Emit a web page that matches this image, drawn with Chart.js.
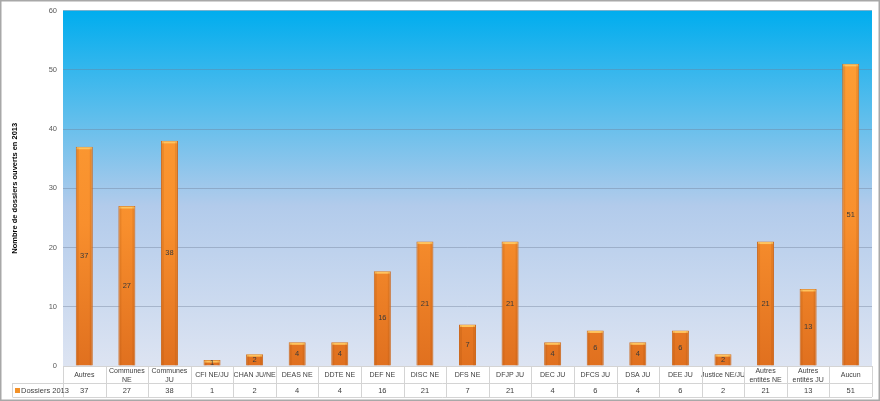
<!DOCTYPE html>
<html lang="fr">
<head>
<meta charset="UTF-8">
<title>Dossiers ouverts en 2013</title>
<script src="https://cdn.jsdelivr.net/npm/chart.js"></script>
<style>
  html, body { margin: 0; padding: 0; background: #fff; }
  #wrap { width: 880px; height: 401px; position: relative; }
</style>
</head>
<body>
<div id="wrap"><canvas id="chart"></canvas></div>
<script>
// données
const categories = [
  ['Autres'], ['Communes', 'NE'], ['Communes', 'JU'], ['CFI NE/JU'], ['CHAN JU/NE'],
  ['DEAS NE'], ['DDTE NE'], ['DEF NE'], ['DISC NE'], ['DFS NE'], ['DFJP JU'],
  ['DEC JU'], ['DFCS JU'], ['DSA JU'], ['DEE JU'], ['Justice NE/JU'],
  ['Autres', 'entités NE'], ['Autres', 'entités JU'], ['Aucun']
];
const dossiers2013 = [37, 27, 38, 1, 2, 4, 4, 16, 21, 7, 21, 4, 6, 4, 6, 2, 21, 13, 51];
const seriesName = 'Dossiers 2013';
const yTicks = [0, 10, 20, 30, 40, 50, 60];

const FONT = '"Liberation Sans", Arial, sans-serif';
const TABLE_LINE = '#d4d4d4';

// fond dégradé de la zone de tracé + cadre extérieur
const backgroundPlugin = {
  id: 'plotBackground',
  beforeDraw(chart) {
    const { ctx, chartArea: a, width, height } = chart;
    ctx.save();
    ctx.fillStyle = '#fff';
    ctx.fillRect(0, 0, width, height);
    const g = ctx.createLinearGradient(0, a.top, 0, a.bottom);
    g.addColorStop(0, '#00adee');
    g.addColorStop(0.3, '#5fbeec');
    g.addColorStop(0.55, '#b2cbeb');
    g.addColorStop(1, '#dde4f2');
    ctx.fillStyle = g;
    ctx.fillRect(a.left, a.top, a.right - a.left, a.bottom - a.top);
    ctx.strokeStyle = '#a8a8a8';
    ctx.lineWidth = 1.5;
    ctx.strokeRect(0.75, 0.75, width - 1.5, height - 1.5);
    ctx.restore();
  }
};

// chapeau clair + étiquettes de valeurs
const barDecorPlugin = {
  id: 'barDecor',
  afterDatasetsDraw(chart) {
    const { ctx } = chart;
    const meta = chart.getDatasetMeta(0);
    ctx.save();
    meta.data.forEach((bar, i) => {
      const half = bar.width / 2;
      ctx.fillStyle = '#ffc45e';
      ctx.fillRect(bar.x - half + 1, bar.y + 0.5, bar.width - 2, 2);
      ctx.fillStyle = 'rgba(150,70,10,0.15)';
      ctx.fillRect(bar.x - half + 1, bar.y + 1, 2, bar.base - bar.y - 1);
      ctx.fillRect(bar.x + half - 3, bar.y + 1, 2, bar.base - bar.y - 1);
      ctx.fillStyle = '#3a3a3a';
      ctx.font = '7.5px ' + FONT;
      ctx.textAlign = 'center';
      ctx.textBaseline = 'middle';
      ctx.fillText(String(dossiers2013[i]), bar.x, (bar.y + bar.base) / 2);
    });
    ctx.restore();
  }
};

// tableau de données sous l'axe
const dataTablePlugin = {
  id: 'dataTable',
  afterDraw(chart) {
    const { ctx, chartArea: a } = chart;
    const x = chart.scales.x;
    const rowTop = a.bottom;
    const rowMid = rowTop + 17;
    const rowBot = rowTop + 31;
    const legendLeft = 12.5;
    const step = (a.right - a.left) / categories.length;
    ctx.save();
    ctx.strokeStyle = TABLE_LINE;
    ctx.lineWidth = 1;
    ctx.beginPath();
    ctx.moveTo(a.left, rowTop + 0.5); ctx.lineTo(a.right, rowTop + 0.5);
    ctx.moveTo(legendLeft, rowMid + 0.5); ctx.lineTo(a.right, rowMid + 0.5);
    ctx.moveTo(legendLeft, rowBot + 0.5); ctx.lineTo(a.right, rowBot + 0.5);
    ctx.moveTo(legendLeft, rowMid); ctx.lineTo(legendLeft, rowBot);
    for (let i = 0; i <= categories.length; i++) {
      const px = Math.round(a.left + i * step) + 0.5;
      ctx.moveTo(px, rowTop); ctx.lineTo(px, rowBot);
    }
    ctx.stroke();

    ctx.fillStyle = '#f39128';
    ctx.fillRect(15, rowMid + 5, 5, 5);
    ctx.fillStyle = '#404040';
    ctx.font = '7.5px ' + FONT;
    ctx.textBaseline = 'middle';
    ctx.textAlign = 'left';
    ctx.fillText(seriesName, 21, (rowMid + rowBot) / 2 + 0.5);
    ctx.textAlign = 'center';
    dossiers2013.forEach((v, i) => {
      ctx.fillText(String(v), x.getPixelForValue(i), (rowMid + rowBot) / 2 + 0.5);
    });
    ctx.restore();
  }
};

const ctx = document.getElementById('chart').getContext('2d');
new Chart(ctx, {
  type: 'bar',
  data: {
    labels: categories,
    datasets: [{
      label: seriesName,
      data: dossiers2013,
      backgroundColor(c) {
        const a = c.chart.chartArea;
        if (!a) return '#f7922e';
        const g = c.chart.ctx.createLinearGradient(0, a.top, 0, a.bottom);
        g.addColorStop(0, '#ffa236');
        g.addColorStop(0.6, '#f88f2d');
        g.addColorStop(1, '#e0701f');
        return g;
      },
      borderColor: '#cc6a20',
      borderWidth: 1,
      barPercentage: 0.4,
      categoryPercentage: 1
    }]
  },
  options: {
    responsive: true,
    maintainAspectRatio: false,
    animation: false,
    layout: { padding: { top: 8, right: 8, bottom: 0, left: 0 } },
    plugins: {
      legend: { display: false },
      tooltip: { enabled: false }
    },
    scales: {
      x: {
        offset: true,
        grid: { display: false },
        border: { display: false },
        ticks: {
          color: '#404040',
          font: { family: FONT, size: 7, lineHeight: 1.3 },
          padding: -3,
          maxRotation: 0,
          autoSkip: false,
          crossAlign: 'center'
        },
        afterFit(scale) { scale.height = 35; }
      },
      y: {
        min: 0,
        max: 60,
        afterBuildTicks(scale) { scale.ticks = yTicks.map(v => ({ value: v })); },
        grid: { color: 'rgba(110,125,150,0.4)', drawTicks: false },
        border: { display: false },
        ticks: {
          color: '#595959',
          font: { family: FONT, size: 7.5 },
          padding: 6
        },
        title: {
          display: true,
          text: 'Nombre de dossiers ouverts en 2013',
          color: '#000',
          font: { family: FONT, size: 7.5, weight: 'bold' },
          padding: { top: 10, bottom: 0 }
        },
        afterFit(scale) { scale.width = 63; }
      }
    }
  },
  plugins: [backgroundPlugin, barDecorPlugin, dataTablePlugin]
});
</script>
</body>
</html>
